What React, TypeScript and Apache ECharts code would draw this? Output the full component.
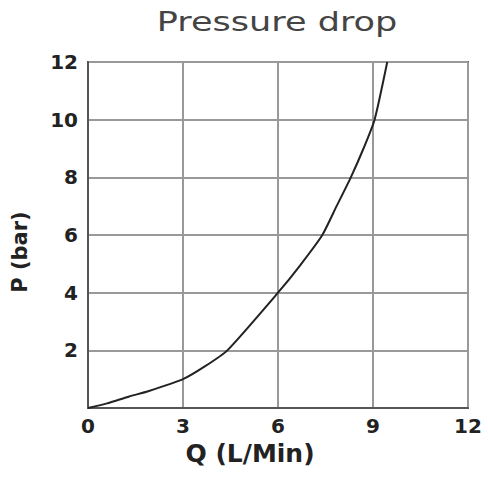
import React, { useEffect, useRef } from "react";
import * as echarts from "echarts";

const flowQ = [0, 0.6, 1.3, 1.9, 3, 3.7, 4.4, 6, 6.7, 7.4, 7.85, 8.3, 8.7, 9.05, 9.45];
const pressureP = [0, 0.16, 0.4, 0.58, 1, 1.45, 2, 4, 4.95, 6, 7, 8, 9, 10, 12];
const titleText = "Pressure drop";
const xName = "Q (L/Min)";
const yName = "P (bar)";

export default function App() {
  const ref = useRef<HTMLDivElement>(null);
  useEffect(() => {
    if (!ref.current) return;
    const chart = echarts.init(ref.current, null, { renderer: "svg" });
    const data = flowQ.map((q, i) => [q, pressureP[i]]);
    chart.setOption({
      animation: false,
      backgroundColor: "#ffffff",
      graphic: [
        {
          type: "text",
          x: 277,
          y: 22,
          scaleX: 1.3,
          style: {
            text: titleText,
            font: "27px 'DejaVu Sans'",
            fill: "#444444",
            textAlign: "center",
            textVerticalAlign: "middle",
          },
        },
      ],
      grid: {
        left: 88,
        right: 20,
        top: 62,
        bottom: 69,
        show: true,
        borderColor: "#555555",
        borderWidth: 2,
        containLabel: false,
      },
      xAxis: {
        type: "value",
        min: 0,
        max: 12,
        interval: 3,
        name: xName,
        nameLocation: "middle",
        nameGap: 30,
        nameTextStyle: {
          fontFamily: "DejaVu Sans",
          fontWeight: "bold",
          fontSize: 25,
          color: "#222222",
          padding: [0, 56, 0, 0],
        },
        axisLine: { show: true, lineStyle: { color: "#555555", width: 2 } },
        axisTick: { show: false },
        axisLabel: {
          margin: 8,
          fontFamily: "DejaVu Sans",
          fontWeight: "bold",
          fontSize: 20,
          color: "#222222",
        },
        splitLine: { show: true, lineStyle: { color: "#999999", width: 2 } },
      },
      yAxis: {
        type: "value",
        min: 0,
        max: 12,
        interval: 2,
        name: yName,
        nameLocation: "middle",
        nameGap: 58,
        nameRotate: 90,
        nameTextStyle: {
          fontFamily: "DejaVu Sans",
          fontWeight: "bold",
          fontSize: 21,
          color: "#222222",
          padding: [0, 34, 0, 0],
        },
        axisLine: { show: true, lineStyle: { color: "#555555", width: 2 } },
        axisTick: { show: false },
        axisLabel: {
          margin: 10,
          fontFamily: "DejaVu Sans",
          fontWeight: "bold",
          fontSize: 20,
          color: "#222222",
          formatter: (v: number) => (v === 0 ? "" : String(v)),
        },
        splitLine: { show: true, lineStyle: { color: "#999999", width: 2 } },
      },
      series: [
        {
          type: "line",
          data,
          smooth: 0.2,
          symbol: "none",
          clip: true,
          lineStyle: { color: "#222222", width: 2 },
        },
      ],
    });
    return () => chart.dispose();
  }, []);
  return (
    <div
      ref={ref}
      style={{ position: "fixed", left: 0, top: 0, width: 488, height: 477 }}
    />
  );
}
